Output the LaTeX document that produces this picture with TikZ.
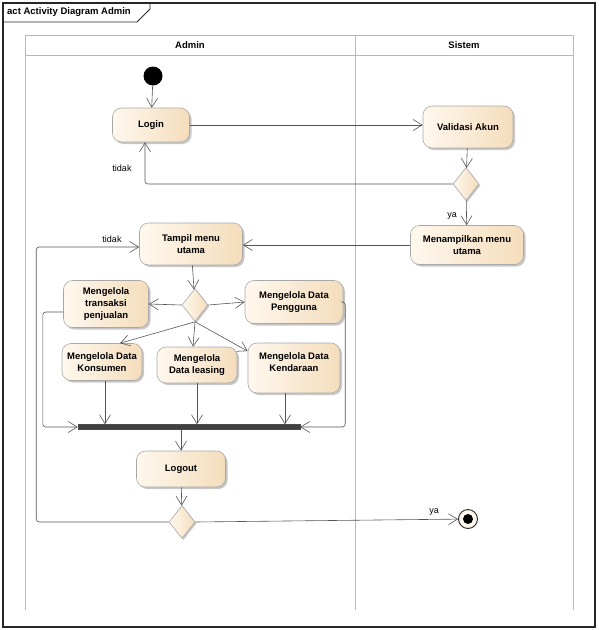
\documentclass[tikz,border=0pt]{standalone}
\usepackage{fontspec}
\setmainfont{Liberation Sans}
\usetikzlibrary{arrows.meta,shapes.geometric,shadows}
\definecolor{fillA}{HTML}{FFF8EE}
\definecolor{fillB}{HTML}{F4DDBC}
\definecolor{edgec}{HTML}{555555}
\definecolor{bordc}{HTML}{A8A8A8}
\definecolor{lanec}{HTML}{B8B8B8}
\begin{document}
\begin{tikzpicture}[x=1pt,y=-1pt,
  act/.style={draw=bordc, line width=0.6pt, rounded corners=9pt, left color=fillA, right color=fillB,
    align=center, font=\bfseries\fontsize{9.5}{12}\selectfont, inner sep=1.5pt,
    drop shadow={shadow xshift=2pt, shadow yshift=-2pt, fill=black, opacity=0.22}},
  dec/.style={diamond, draw=bordc, line width=0.6pt, left color=fillA, right color=fillB,
    minimum width=26pt, minimum height=33pt, inner sep=0pt,
    drop shadow={shadow xshift=1.5pt, shadow yshift=-1.5pt, fill=black, opacity=0.22}},
  flow/.style={draw=edgec, line width=0.6pt, -{Straight Barb[length=9pt,width=11pt]}, rounded corners=3pt},
  lbl/.style={font=\fontsize{9}{10}\selectfont},
  hdr/.style={font=\bfseries\fontsize{9.5}{11}\selectfont},
  lane/.style={draw=lanec, line width=0.9pt}
]
\useasboundingbox (0,0) rectangle (598,630);
% frame
\draw[line width=1.1pt, draw=black!85] (3,3) rectangle (595,627);
\draw[line width=0.8pt, draw=black!85] (3,22) -- (137,22) -- (150,9) -- (150,3);
\node[hdr, anchor=west, inner sep=0pt] (title) at (7,12.5) {act Activity Diagram Admin};
% swimlanes
\draw[lane] (25,610) -- (25,35) -- (573,35) -- (573,610);
\draw[lane] (355,35) -- (355,610);
\draw[lane] (25,55) -- (573,55);
\node[hdr] (hadmin) at (190,45) {Admin};
\node[hdr] (hsistem) at (464,45) {Sistem};
% nodes
\node[circle, fill=black, minimum size=19pt, inner sep=0pt] (init) at (153,76) {};
\node[act, minimum width=77pt, minimum height=34pt] (login) at (151,125) {Login};
\node[act, minimum width=90pt, minimum height=42pt] (valid) at (468,127) {Validasi Akun};
\node[dec] (d1) at (466,184) {};
\node[act, minimum width=113pt, minimum height=39pt] (menam) at (467,245) {Menampilkan menu\\utama};
\node[act, minimum width=103pt, minimum height=42pt] (tampil) at (191,244) {Tampil menu\\utama};
\node[dec] (d2) at (195,305) {};
\node[act, minimum width=85pt, minimum height=47pt] (trans) at (106,304) {Mengelola\\transaksi\\penjualan};
\node[act, minimum width=98pt, minimum height=43pt] (peng) at (294,302) {Mengelola Data\\Pengguna};
\node[act, minimum width=80pt, minimum height=37pt] (kons) at (102,362) {Mengelola Data\\Konsumen};
\node[act, minimum width=80pt, minimum height=36pt] (leas) at (197,365) {Mengelola\\Data leasing};
\node[act, minimum width=92pt, minimum height=50pt] (kend) at (294,368) {Mengelola Data\\Kendaraan\\\mbox{}};
\node[draw=black!70, fill=black!75, minimum width=222pt, minimum height=5pt, inner sep=0pt] (bar) at (189,427) {};
\node[act, minimum width=89pt, minimum height=36pt] (logout) at (181,469) {Logout};
\node[dec] (d3) at (182,522) {};
\node[circle, draw=black!85, line width=0.9pt, fill=fillA, minimum size=19pt, inner sep=0pt] (fin) at (468,519) {};
\fill[black] (fin.center) circle (5);
% connectors
\draw[flow] (init) -- (login);
\draw[flow] (login.east) -- (login.east -| valid.west);
\draw[flow] (valid) -- (d1);
\draw[flow] (d1) -- (menam);
\draw[flow] (d1.west) -| ([xshift=-6pt]login.south);
\draw[flow] (menam.west) -- (menam.west -| tampil.east);
\draw[flow] (tampil) -- (d2);
\draw[flow] (d2.west) -- (trans.east);
\draw[flow] (d2.east) -- (peng.west);
\draw[flow] (d2.south) -- ([xshift=18pt]kons.north);
\draw[flow] (d2.south) -- ([xshift=-4pt]leas.north);
\draw[flow] (d2.south) -- (kend.160);
\draw[flow] ([xshift=3pt]kons.south) -- ([xshift=3pt]kons.south |- bar.north);
\draw[flow] (leas.south) -- (leas.south |- bar.north);
\draw[flow] ([xshift=-9pt]kend.south) -- ([xshift=-9pt]kend.south |- bar.north);
\draw[flow] ([yshift=-8pt]trans.west) -| ([xshift=-35pt]bar.west) -- (bar.west);
\draw[flow] (peng.east) -| ([xshift=45pt]bar.east) -- (bar.east);
\draw[flow] (bar.south -| logout.north) -- (logout.north);
\draw[flow] (logout) -- (d3);
\draw[flow] (d3.west) -| ([xshift=-103pt,yshift=-3pt]tampil.west) -- ([yshift=-3pt]tampil.west);
\draw[flow] (d3.east) -- (fin);
% labels
\node[lbl] (l1) at (122,168) {tidak};
\node[lbl] (l2) at (452,216) {ya};
\node[lbl] (l3) at (112,239) {tidak};
\node[lbl] (l4) at (434,512) {ya};
\end{tikzpicture}
\end{document}
